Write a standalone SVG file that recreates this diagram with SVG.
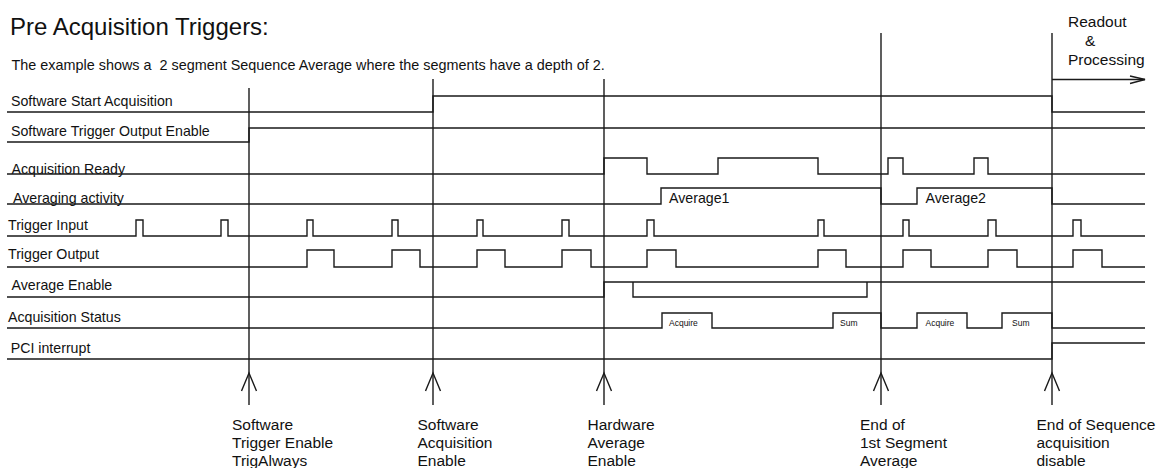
<svg xmlns="http://www.w3.org/2000/svg" width="1160" height="468" viewBox="0 0 1160 468">
<style>
text{font-family:"Liberation Sans",Arial,Helvetica,sans-serif;fill:#111}
.lbl{font-size:14.2px}
.bot{font-size:15.5px}
.tiny{font-size:8.5px}
.w{fill:none;stroke:#1a1a1a;stroke-width:1.4;stroke-linejoin:miter}
</style>
<defs>
<path id="uparrow" d="M-7.5,391 L0,373 L7.5,391" fill="none" stroke="#1a1a1a" stroke-width="1.4"/>
</defs>
<rect width="1160" height="468" fill="#fff"/>
<g id="title">
<text x="10" y="34.5" style="font-size:24px">Pre Acquisition Triggers:</text>
<text x="11.5" y="70" xml:space="preserve" style="font-size:14.4px;white-space:pre">The example shows a  2 segment Sequence Average where the segments have a depth of 2.</text>
</g>
<g id="sig-software-start">
<text class="lbl" x="11" y="105.5">Software Start Acquisition</text>
<path class="w" d="M7,112 H433 V96 H1052 V112 H1145"/>
</g>
<g id="sig-trigger-output-enable">
<text class="lbl" x="11" y="135.5">Software Trigger Output Enable</text>
<path class="w" d="M7,142 H249 V128 H1145"/>
</g>
<g id="sig-acq-ready">
<text class="lbl" x="11.5" y="173.5">Acquisition Ready</text>
<path class="w" d="M7,174 H604 V158 H647 V174 H718 V158 H818 V174 H888 V158 H903 V174 H974 V158 H988 V174 H1145"/>
</g>
<g id="sig-averaging">
<text class="lbl" x="13" y="203">Averaging activity</text>
<path class="w" d="M7,204 H661 V188 H881 V204 H917 V188 H1052 V204 H1145"/>
<text class="lbl" x="669" y="202.5">Average1</text>
<text class="lbl" x="925.5" y="202.5">Average2</text>
</g>
<g id="sig-trigger-input">
<text class="lbl" x="8" y="230">Trigger Input</text>
<path class="w" d="M7,236 H136 V220 H143 V236 H221 V220 H228 V236 H307 V220 H313 V236 H392 V220 H398 V236 H477 V220 H483 V236 H562 V220 H569 V236 H647 V220 H654 V236 H818 V220 H824 V236 H903 V220 H909 V236 H988 V220 H996 V236 H1073 V220 H1081 V236 H1145"/>
</g>
<g id="sig-trigger-output">
<text class="lbl" x="8" y="259">Trigger Output</text>
<path class="w" d="M7,267 H307 V250 H334 V267 H392 V250 H420 V267 H477 V250 H505 V267 H562 V250 H591 V267 H647 V250 H676 V267 H818 V250 H846 V267 H903 V250 H931 V267 H988 V250 H1017 V267 H1073 V250 H1102 V267 H1145"/>
</g>
<g id="sig-average-enable">
<text class="lbl" x="11.5" y="290">Average Enable</text>
<path class="w" d="M7,297 H604 V282 H1145"/>
<path class="w" d="M633,282 V297 H867 V282"/>
</g>
<g id="sig-acq-status">
<text class="lbl" x="8" y="321.5">Acquisition Status</text>
<path class="w" d="M7,328 H662 V313 H712 V328 H833 V313 H881 V328 H917 V313 H967 V328 H1002 V313 H1052 V328 H1145"/>
<text class="tiny" x="669" y="326">Acquire</text>
<text class="tiny" x="840" y="326">Sum</text>
<text class="tiny" x="925.5" y="326">Acquire</text>
<text class="tiny" x="1012" y="326">Sum</text>
</g>
<g id="sig-pci">
<text class="lbl" x="10.7" y="352.5">PCI interrupt</text>
<path class="w" d="M7,359 H1052 V343 H1145"/>
</g>
<g id="connectors">
<path class="w" d="M249,88 V405"/>
<path class="w" d="M433,79 V405"/>
<path class="w" d="M604,79 V405"/>
<path class="w" d="M881,33 V405"/>
<path class="w" d="M1052,33 V405"/>
<use href="#uparrow" x="249"/>
<use href="#uparrow" x="433"/>
<use href="#uparrow" x="604"/>
<use href="#uparrow" x="881"/>
<use href="#uparrow" x="1052"/>
<path class="w" d="M1052,79.5 H1145"/>
<path class="w" d="M1130,76 L1145,79.5 L1130,83.5"/>
</g>
<g id="marker-labels">
<g id="m1"><text class="bot" x="232" y="429.5">Software</text><text class="bot" x="232" y="447.8">Trigger Enable</text><text class="bot" x="232" y="466">TrigAlways</text></g>
<g id="m2"><text class="bot" x="417.5" y="429.5">Software</text><text class="bot" x="417.5" y="447.8">Acquisition</text><text class="bot" x="417.5" y="466">Enable</text></g>
<g id="m3"><text class="bot" x="587.5" y="429.5">Hardware</text><text class="bot" x="587.5" y="447.8">Average</text><text class="bot" x="587.5" y="466">Enable</text></g>
<g id="m4"><text class="bot" x="860" y="429.5">End of</text><text class="bot" x="860" y="447.8">1st Segment</text><text class="bot" x="860" y="466">Average</text></g>
<g id="m5"><text class="bot" x="1036.5" y="429.5">End of Sequence</text><text class="bot" x="1036.5" y="447.8">acquisition</text><text class="bot" x="1036.5" y="466">disable</text></g>
<g id="readout"><text class="bot" x="1068" y="26.5">Readout</text><text class="bot" x="1085" y="45.5">&amp;</text><text class="bot" x="1068" y="64.5">Processing</text></g>
</g>
</svg>
